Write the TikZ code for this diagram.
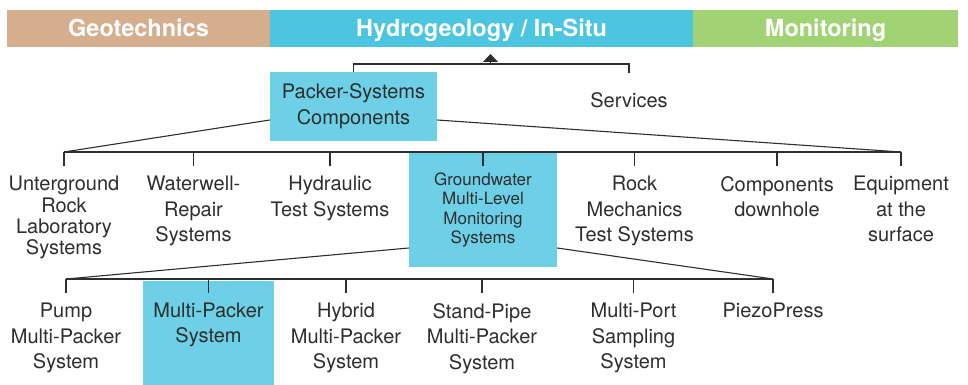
\documentclass[tikz,border=0pt]{standalone}
\usepackage{fontspec}
\setmainfont{TeX Gyre Heros}
\usetikzlibrary{arrows.meta}
\definecolor{geotan}{HTML}{D5AE8E}
\definecolor{hydrocyan}{HTML}{4CC5E0}
\definecolor{mongreen}{HTML}{A1D374}
\definecolor{boxcyan}{HTML}{6DD0E6}
\definecolor{ink}{HTML}{2E2E2E}
\tikzset{
  bar/.style={minimum height=37pt, inner sep=0pt, text=white,
    font=\bfseries\fontsize{23.5}{28}\selectfont, text height=16.8pt, text depth=0pt},
  item/.style={anchor=north, inner xsep=1pt, inner ysep=10pt, align=center,
    text=ink, font=\fontsize{20}{25.5}\selectfont},
  hl/.style={fill=boxcyan, inner sep=0pt, align=center, text=ink},
  tick/.style={line width=1.7pt, draw=ink},
  link/.style={line width=1.1pt, draw=ink},
}
\begin{document}
\begin{tikzpicture}[x=1pt,y=-1pt]
  \useasboundingbox (0,0) rectangle (968,385);
  % top bar
  \node[bar, fill=geotan, minimum width=263pt] (geo) at (138.5,28.5) {Geotechnics};
  \node[bar, fill=hydrocyan, minimum width=423pt] (hydro) at (481.5,28.5) {Hydrogeology / In-Situ};
  \node[bar, fill=mongreen, minimum width=265pt] (mon) at (825.5,28.5) {Monitoring};
  % first level
  \node[hl, minimum width=167pt, minimum height=69pt,
    font=\fontsize{20}{26.4}\selectfont] (comp) at (353.5,106.5) {Packer-Systems\\Components};
  \node[item, anchor=center, inner ysep=0pt, minimum height=54pt] (serv) at (629,100) {Services};
  % second level
  \node[item, font=\fontsize{20}{21.3}\selectfont] (urock) at (64,166) {Unterground\\Rock\\Laboratory\\Systems};
  \node[item] (wwell) at (193.5,166) {Waterwell-\\Repair\\Systems};
  \node[item] (hyd) at (330,166) {Hydraulic\\Test Systems};
  \node[hl, minimum width=148pt, minimum height=114pt,
    font=\fontsize{17}{19.5}\selectfont] (gwm) at (483,210) {Groundwater\\Multi-Level\\Monitoring\\Systems};
  \node[item] (rock) at (634.5,166) {Rock\\Mechanics\\Test Systems};
  \node[item] (down) at (777,166) {Components\\downhole};
  \node[item] (surf) at (901,166) {Equipment\\at the\\surface};
  % third level
  \node[item] (pump) at (66,293) {Pump\\Multi-Packer\\System};
  \node[hl, minimum width=131pt, minimum height=109pt,
    font=\fontsize{20}{25.5}\selectfont] (mps) at (208.5,335.5) {Multi-Packer\\System\\\mbox{}};
  \node[item] (hyb) at (346,293) {Hybrid\\Multi-Packer\\System};
  \node[item] (spipe) at (482,293) {Stand-Pipe\\Multi-Packer\\System};
  \node[item] (mport) at (633.5,293) {Multi-Port\\Sampling\\System};
  \node[item] (piezo) at (773,293) {PiezoPress};
  \coordinate (bracket) at (490.5,64);
  \coordinate (bus2) at (0,152);
  \coordinate (bus3) at (0,279);
  \begin{scope}[link]
    \draw[line width=1.5pt] (comp.north) |- (bracket) -| (serv.north);
    \draw[-{Triangle[width=15pt,length=8pt]}] (bracket) -- ++(0,-10);
    \draw ([yshift=-13.5pt]comp.west) -- (urock.north |- bus2);
    \draw ([yshift=-13.5pt]comp.east) -- (surf.north |- bus2);
    \draw ([yshift=-38pt]gwm.west) -- (pump.north |- bus3);
    \draw ([yshift=-38pt]gwm.east) -- (piezo.north |- bus3);
  \end{scope}
  \begin{scope}[tick]
    \draw (urock.north |- bus2) -- (surf.north |- bus2);
    \foreach \n in {urock,wwell,hyd,gwm,rock,down,surf}
      \draw (\n.north |- bus2) -- ++(0,14);
    \draw (pump.north |- bus3) -- (piezo.north |- bus3);
    \foreach \n in {pump,mps,hyb,spipe,mport,piezo}
      \draw (\n.north |- bus3) -- ++(0,14);
  \end{scope}
\end{tikzpicture}
\end{document}
